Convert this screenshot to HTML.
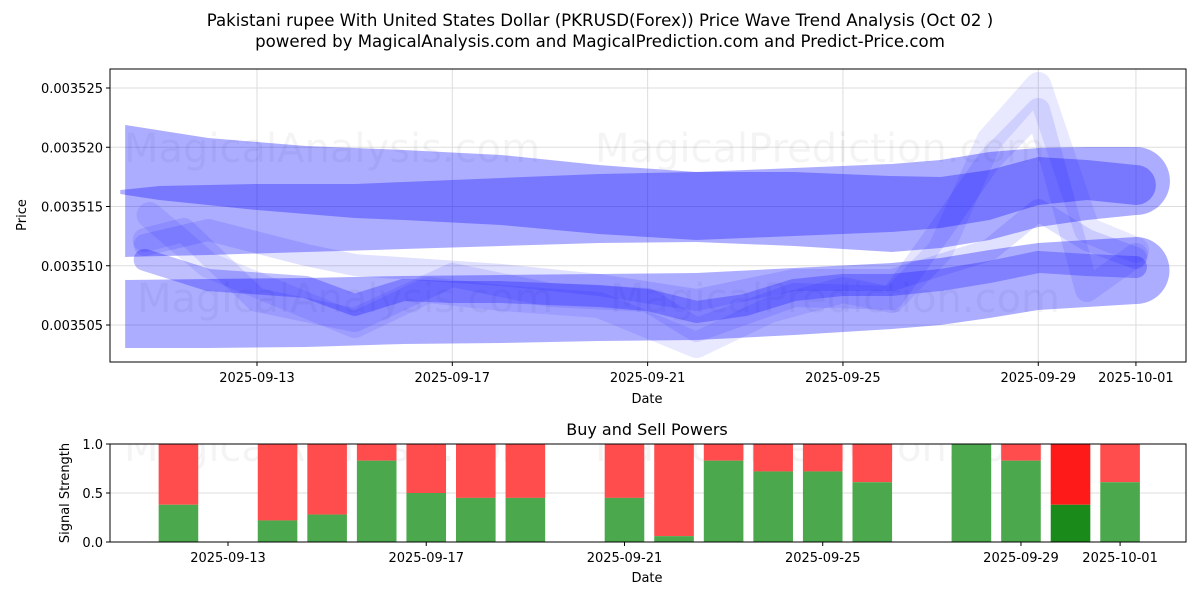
<!DOCTYPE html>
<html><head><meta charset="utf-8"><style>
body{margin:0;background:#fff}
svg text{font-family:"DejaVu Sans","Liberation Sans",sans-serif}
</style></head><body>
<svg id="c" width="1200" height="600" xmlns="http://www.w3.org/2000/svg">
<defs>
<clipPath id="cp1"><rect x="110" y="69" width="1076" height="293"/></clipPath>
<clipPath id="cp2"><rect x="110" y="444" width="1076" height="98"/></clipPath>
</defs>
<text x="600" y="26" text-anchor="middle" font-size="16.6">Pakistani rupee With United States Dollar (PKRUSD(Forex)) Price Wave Trend Analysis (Oct 02 )</text>
<text x="600" y="47" text-anchor="middle" font-size="16.6">powered by MagicalAnalysis.com and MagicalPrediction.com and Predict-Price.com</text>
<g id="topg" clip-path="url(#cp1)"></g>
<g id="botg" clip-path="url(#cp2)"></g>
<g id="ax"></g>
</svg>
<script>
// top chart data (price in 1e-6 units), day offsets from 2025-09-10
const bandDays=[0.3,2,4,6,8,10,12,14,16,17,18,19,20,21];
const upTop=[3521.88,3520.78,3520.11,3519.77,3519.35,3518.50,3517.91,3518.25,3518.59,3518.92,3519.60,3519.94,3520.02,3520.02];
const upBot=[3510.74,3510.91,3511.16,3511.41,3511.67,3511.92,3512.00,3511.67,3511.16,3511.50,3512.17,3513.27,3513.86,3514.28];
const darkDays=[0.2,1,3,5,6,8,10,12,14,16,17,18,19,20,21];
const darkTop=[3516.39,3516.73,3516.90,3516.90,3517.07,3517.41,3517.74,3517.91,3517.91,3517.57,3517.49,3518.08,3519.18,3518.92,3518.50];
const darkBot=[3516.05,3515.55,3514.70,3514.03,3513.86,3513.44,3512.68,3512.17,3512.51,3512.85,3513.19,3513.86,3515.13,3515.55,3515.13];
const loTop=[3508.80,3508.88,3508.97,3509.14,3509.22,3509.30,3509.39,3509.81,3510.23,3510.65,3511.33,3511.92,3512.17,3512.43];
const loBot=[3503.06,3503.06,3503.14,3503.40,3503.48,3503.65,3503.73,3504.16,3504.66,3505.00,3505.59,3506.27,3506.52,3506.77];
const cDays=[0.7,2,4,5,6,7,8,10,11,12,13,14,15,16,17,18,19,20,21];
const cVals=[3510.49,3508.80,3508.21,3506.69,3507.95,3507.78,3507.78,3507.45,3507.11,3506.10,3506.69,3507.95,3508.38,3508.38,3508.80,3509.47,3510.32,3510.06,3509.89];
const z1Days=[0.8,2,5,6.5,8,10,12,13.5,15,16,17,18,19,20,21];
const z1Vals=[3514.28,3510.06,3505.00,3507.95,3507.28,3506.69,3503.31,3506.27,3507.95,3507.11,3511.33,3520.61,3525.25,3513.02,3511.33];
const z2Days=[0.7,1.5,3,5,7,9,11,12,14,16,17,18,19,20,21];
const z2Vals=[3512.17,3513.02,3507.11,3505.42,3509.22,3507.53,3507.11,3504.58,3507.53,3507.28,3513.02,3518.92,3523.14,3507.95,3510.91];
const z3Days=[0.7,2,4,5,8,10,12,14,16,18,19,20,21];
const z3Vals=[3511.75,3513.02,3510.91,3510.06,3509.22,3508.38,3507.11,3508.80,3508.80,3511.33,3514.70,3512.17,3510.65];
const yTicks=[3505,3510,3515,3520,3525];
const xTickDays=[3,7,11,15,19,21];
const xTickLabels=["2025-09-13","2025-09-17","2025-09-21","2025-09-25","2025-09-29","2025-10-01"];
// bottom chart data
const barDays=[2,4,5,6,7,8,9,11,12,13,14,15,16,18,19,20,21];
const buyVals=[0.38,0.22,0.28,0.83,0.50,0.45,0.45,0.45,0.06,0.83,0.72,0.72,0.61,1.0,0.83,0.38,0.61];
const sTicks=[0,0.5,1.0];
const sTickLabels=["0.0","0.5","1.0"];

const NS="http://www.w3.org/2000/svg";
const X=d=>110.5+d*48.83;
const Y=v=>88+(3525-v)*11.85;
const XB=d=>228+(d-3)*49.56;
const YB=v=>542-v*98;
function mk(tag,attrs,parent){const e=document.createElementNS(NS,tag);for(const k in attrs)e.setAttribute(k,attrs[k]);parent.appendChild(e);return e;}
const gTop=document.getElementById('topg'),gBot=document.getElementById('botg'),ax=document.getElementById('ax');
yTicks.forEach(v=>{const l=mk('line',{x1:110,x2:1186,y1:Y(v),y2:Y(v),stroke:'#ddd','stroke-width':1},gTop);

});
xTickDays.forEach(d=>{const l=mk('line',{x1:X(d),x2:X(d),y1:69,y2:362,stroke:'#ddd','stroke-width':1},gTop);

});
[[332,148,'MagicalAnalysis.com'],[820,148,'MagicalPrediction.com'],[345,298,'MagicalAnalysis.com'],[835,298,'MagicalPrediction.com']].forEach(w=>{
const t=mk('text',{x:w[0],y:w[1]+14,'text-anchor':'middle','font-size':40,fill:'#000','fill-opacity':0.045},gTop);t.textContent=w[2];

});
function band(days,tp,bt,op,name){
let pts=days.map((d,i)=>X(d)+','+Y(tp[i]));
for(let i=days.length-1;i>=0;i--)pts.push(X(days[i])+','+Y(bt[i]));
const p=mk('polygon',{points:pts.join(' '),fill:'#0000ff','fill-opacity':op},gTop);


const n=days.length-1,cy=(Y(tp[n])+Y(bt[n]))/2,r=(Y(bt[n])-Y(tp[n]))/2;
const c=mk('path',{d:`M${X(days[n])},${cy-r} A${r},${r} 0 0 1 ${X(days[n])},${cy+r} Z`,fill:'#0000ff','fill-opacity':op},gTop);

}
function line(days,vals,w,op,name){
const p=mk('polyline',{points:days.map((d,i)=>X(d)+','+Y(vals[i])).join(' '),fill:'none',stroke:'#0000ff','stroke-opacity':op,'stroke-width':w,'stroke-linejoin':'round','stroke-linecap':'round'},gTop);

}
band(bandDays,upTop,upBot,0.32,'upper-wave-band');
band(darkDays,darkTop,darkBot,0.3,'upper-trend-band');
band(bandDays,loTop,loBot,0.32,'lower-wave-band');
line(z1Days,z1Vals,26,0.09,'wave-line-1');
line(z2Days,z2Vals,24,0.1,'wave-line-2');
line(z3Days,z3Vals,22,0.12,'wave-line-3');
line(cDays,cVals,22,0.25,'lower-trend-line');
mk('rect',{x:110,y:69,width:1076,height:293,fill:'none',stroke:'#000','stroke-width':1},ax);
yTicks.forEach(v=>{mk('line',{x1:106,x2:110,y1:Y(v),y2:Y(v),stroke:'#000'},ax);
const t=mk('text',{x:103,y:Y(v)+5,'text-anchor':'end','font-size':13},ax);t.textContent=(v/1e6).toFixed(6);

});
xTickDays.forEach((d,i)=>{mk('line',{x1:X(d),x2:X(d),y1:362,y2:366,stroke:'#000'},ax);
const t=mk('text',{x:X(d),y:382,'text-anchor':'middle','font-size':13},ax);t.textContent=xTickLabels[i];

});
let t=mk('text',{x:647,y:403,'text-anchor':'middle','font-size':13},ax);t.textContent='Date';


t=mk('text',{x:26,y:215,'text-anchor':'middle','font-size':13,transform:'rotate(-90 26 215)'},ax);t.textContent='Price';


sTicks.forEach(v=>{const l=mk('line',{x1:110,x2:1186,y1:YB(v),y2:YB(v),stroke:'#ddd'},gBot);

});
[[332,'MagicalAnalysis.com'],[820,'MagicalPrediction.com']].forEach(w=>{
const tt=mk('text',{x:w[0],y:461,'text-anchor':'middle','font-size':40,fill:'#000','fill-opacity':0.045},gBot);tt.textContent=w[1];

});
barDays.forEach((d,i)=>{const bx=XB(d)-19.8,w=39.6,v=buyVals[i];const special=(d===20);
const r=mk('rect',{x:bx,y:YB(1),width:w,height:YB(v)-YB(1),fill:special?'#ff1a1a':'#ff4c4c'},gBot);


const g=mk('rect',{x:bx,y:YB(v),width:w,height:YB(0)-YB(v),fill:special?'#1a8a1a':'#4ca84c'},gBot);

});
mk('rect',{x:110,y:444,width:1076,height:98,fill:'none',stroke:'#000'},ax);
sTicks.forEach((v,i)=>{mk('line',{x1:106,x2:110,y1:YB(v),y2:YB(v),stroke:'#000'},ax);
const s=mk('text',{x:103,y:YB(v)+5,'text-anchor':'end','font-size':13},ax);s.textContent=sTickLabels[i];

});
xTickDays.forEach((d,i)=>{mk('line',{x1:XB(d),x2:XB(d),y1:542,y2:546,stroke:'#000'},ax);
const s=mk('text',{x:XB(d),y:562,'text-anchor':'middle','font-size':13},ax);s.textContent=xTickLabels[i];

});
t=mk('text',{x:647,y:582,'text-anchor':'middle','font-size':13},ax);t.textContent='Date';


t=mk('text',{x:69,y:493,'text-anchor':'middle','font-size':13,transform:'rotate(-90 69 493)'},ax);t.textContent='Signal Strength';


t=mk('text',{x:647,y:435,'text-anchor':'middle','font-size':16},ax);t.textContent='Buy and Sell Powers';


</script>
</body></html>
